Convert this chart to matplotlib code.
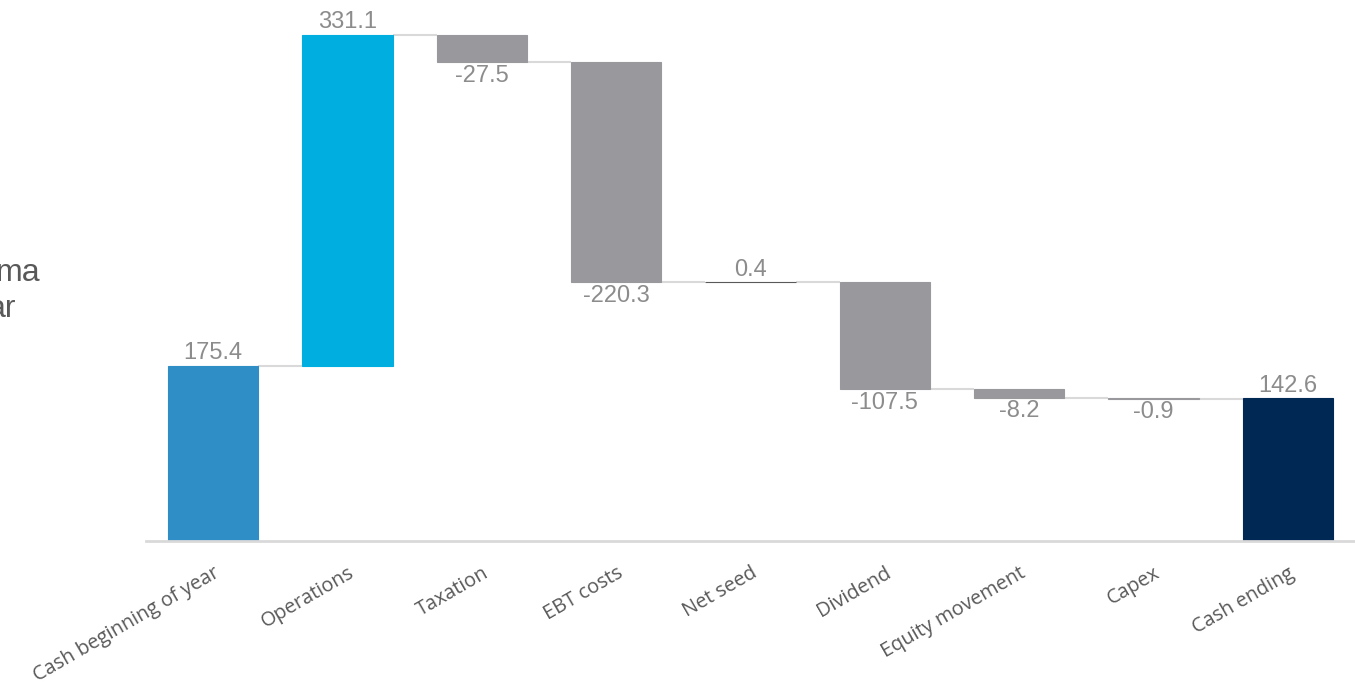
import matplotlib
matplotlib.use("Agg")
import matplotlib.pyplot as plt
import numpy as np

# waterfall data
categories = ["Cash beginning of year", "Operations", "Taxation", "EBT costs",
              "Net seed", "Dividend", "Equity movement", "Capex", "Cash ending"]
values = [175.4, 331.1, -27.5, -220.3, 0.4, -107.5, -8.2, -0.9, 142.6]
kinds = ["total", "delta", "delta", "delta", "delta", "delta", "delta", "delta", "total"]

bar_colors = ["#2f8ec6", "#00aee0", "#99989d", "#99989d", "#99989d",
              "#99989d", "#99989d", "#99989d", "#002855"]

W, H = 1355, 690
fig = plt.figure(figsize=(W / 100, H / 100), dpi=100)
ax = fig.add_axes([146 / W, (H - 541) / H, (W - 146) / W, 541 / H])

x = np.arange(len(categories))
bw = 0.67
bottoms, heights, tops = [], [], []
running = 0.0
for v, k in zip(values, kinds):
    if k == "total":
        b, h = 0.0, v
        running = v
    else:
        b = running if v >= 0 else running + v
        h = abs(v)
        running += v
    bottoms.append(b)
    heights.append(h)
    tops.append(running)

ax.bar(x, heights, bottom=bottoms, width=bw, color=bar_colors,
       edgecolor=["#595959" if h < 0.5 else c for h, c in zip(heights, bar_colors)],
       linewidth=0.8, zorder=2)

# connectors
for i in range(len(x) - 1):
    ax.plot([x[i] + bw / 2, x[i + 1] - bw / 2], [tops[i], tops[i]],
            color="#d9d9d9", lw=1.5, zorder=1, solid_capstyle="butt")

# value labels
for i, v in enumerate(values):
    if v >= 0:
        y = bottoms[i] + heights[i]
        ax.annotate(f"{v:.1f}", (x[i], y), xytext=(0, 1), textcoords="offset points",
                    ha="center", va="bottom", fontsize=17, color="#8c8c8c",
                    family="Liberation Sans")
    else:
        y = bottoms[i]
        ax.annotate(f"{v:.1f}", (x[i], y), xytext=(0, -2), textcoords="offset points",
                    ha="center", va="top", fontsize=17, color="#8c8c8c",
                    family="Liberation Sans")

ax.set_xlim(-0.5, 8.5)
ax.set_ylim(0, 541)
ax.set_yticks([])
ax.set_xticks(x)
ax.set_xticklabels(categories, rotation=30, ha="right", rotation_mode="anchor",
                   fontsize=14.3, color="#595959", family="Open Sans")
ax.tick_params(axis="x", length=0, pad=16)
for s in ["top", "right", "left"]:
    ax.spines[s].set_visible(False)
ax.spines["bottom"].set_color("#d9d9d9")
ax.spines["bottom"].set_linewidth(2)

# text clipped at the left edge, as in the source picture
fig.text(40 / W, 1 - 273 / H, "ma", ha="right", va="center", fontsize=23,
         color="#595959", family="Liberation Sans")
fig.text(16 / W, 1 - 309 / H, "ar", ha="right", va="center", fontsize=23,
         color="#595959", family="Liberation Sans")

fig.savefig("out.png", dpi=100)
